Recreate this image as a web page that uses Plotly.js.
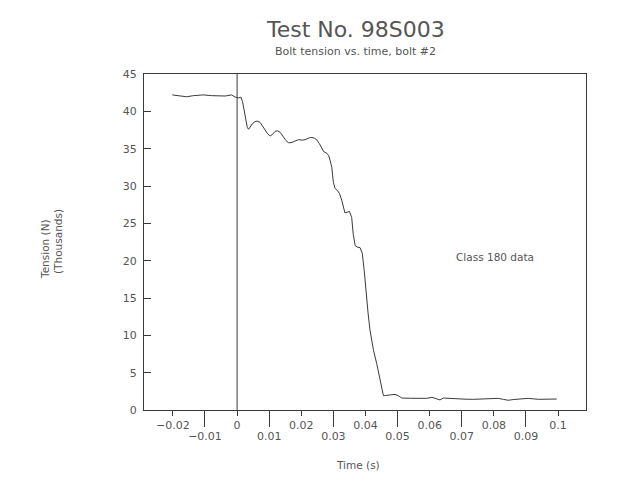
<!DOCTYPE html>
<html>
<head>
<meta charset="utf-8">
<script src="https://cdn.plot.ly/plotly-3.0.1.min.js"></script>
<style>html,body{margin:0;padding:0;background:#fff;}#chart{width:623px;height:484px;}</style>
</head>
<body>
<div id="chart"></div>
<script>
const time = [-0.0202,-0.0178,-0.0157,-0.0136,-0.0105,-0.0079,-0.0058,-0.0037,-0.0017,-0.0006,
0.0005,0.0012,0.0017,0.0020,0.0024,0.0027,0.0032,0.0036,0.0041,0.0047,0.0055,0.0062,0.0072,0.0080,
0.0087,0.0095,0.0103,0.0110,0.0118,0.0126,0.0134,0.0144,0.0152,0.0160,0.0168,0.0177,0.0191,0.0203,
0.0212,0.0225,0.0233,0.0241,0.0248,0.0256,0.0264,0.0270,0.0279,0.0285,0.0290,0.0295,0.0300,0.0305,
0.0312,0.0319,0.0326,0.0331,0.0336,0.0343,0.0350,0.0357,0.0362,0.0368,0.0376,0.0383,0.0390,0.0396,
0.0402,0.0408,0.0414,0.0420,0.0425,0.0435,0.0442,0.0448,0.0453,0.0456,0.0463,0.0471,0.0480,0.0492,
0.0503,0.0513,0.0540,0.0570,0.0591,0.0607,0.0622,0.0632,0.0643,0.0658,0.0684,0.0710,0.0736,0.0760,
0.0788,0.0814,0.0830,0.0845,0.0860,0.0871,0.0890,0.0907,0.0939,0.0970,0.0996];
const tension = [42.2,42.1,41.95,42.1,42.2,42.1,42.05,42.05,42.2,41.9,
41.8,41.9,41.3,40.6,39.5,38.6,37.8,37.6,37.9,38.3,38.6,38.7,38.5,38.0,
37.5,37.0,36.7,36.9,37.3,37.4,37.2,36.6,36.1,35.8,35.8,35.95,36.2,36.15,
36.2,36.45,36.5,36.4,36.2,35.7,35.0,34.6,34.4,34.1,33.4,32.5,30.5,29.7,
29.4,29.0,28.1,27.2,26.4,26.5,26.6,25.8,23.5,22.0,21.8,21.75,21.0,18.7,
15.6,13.0,10.7,9.0,8.0,6.2,4.8,3.6,2.4,1.9,1.95,2.0,2.05,2.1,
1.9,1.6,1.57,1.57,1.56,1.7,1.43,1.35,1.6,1.56,1.43,1.45,1.43,1.47,
1.43,1.56,1.42,1.3,1.4,1.43,1.5,1.56,1.43,1.47,1.47];

const xTickUpperVals = [-0.02,0,0.02,0.04,0.06,0.08,0.1];
const xTickUpperText = ["\u22120.02","0","0.02","0.04","0.06","0.08","0.1"];
const xTickLowerVals = [-0.01,0.01,0.03,0.05,0.07,0.09];
const xTickLowerText = ["\u22120.01","0.01","0.03","0.05","0.07","0.09"];
const yTickVals = [0,5,10,15,20,25,30,35,40,45];
const yTickText = ["0","5","10","15","20","25","30","35","40","45"];

const xRange = [-0.029, 0.1087];
const yRange = [0, 45];
const ink = '#3a3a3a';
const txt = '#555555';
const fam = 'DejaVu Sans, sans-serif';

const trace = {
  x: time, y: tension, type: 'scatter', mode: 'lines',
  line: {color: ink, width: 1}, hoverinfo: 'skip', showlegend: false
};
const dummy = {x: [xRange[0]], y: [0], xaxis: 'x2', yaxis: 'y', type: 'scatter', mode: 'none', showlegend: false, hoverinfo: 'skip'};

const layout = {
  width: 623, height: 484,
  margin: {l: 144, r: 37, t: 74, b: 74},
  paper_bgcolor: '#fff', plot_bgcolor: '#fff',
  font: {family: fam, color: txt, size: 11},
  showlegend: false,
  xaxis: {
    range: xRange, showgrid: false, zeroline: false,
    showline: true, linecolor: ink, linewidth: 1, mirror: true,
    ticks: 'outside', ticklen: 5, tickcolor: ink, tickwidth: 1,
    tickmode: 'array', tickvals: xTickUpperVals, ticktext: xTickUpperText,
    tickfont: {family: fam, size: 11, color: txt}
  },
  xaxis2: {
    range: xRange, overlaying: 'x', anchor: 'y', side: 'bottom',
    showgrid: false, zeroline: false, showline: false,
    ticks: 'outside', ticklen: 16, tickcolor: ink, tickwidth: 1,
    tickmode: 'array', tickvals: xTickLowerVals, ticktext: xTickLowerText,
    tickfont: {family: fam, size: 11, color: txt}
  },
  yaxis: {
    range: yRange, showgrid: false, zeroline: false,
    showline: true, linecolor: ink, linewidth: 1, mirror: true,
    ticks: 'inside', ticklen: 7, tickcolor: ink, tickwidth: 1,
    tickmode: 'array', tickvals: yTickVals, ticktext: yTickText,
    ticklabelstandoff: 4,
    tickfont: {family: fam, size: 11, color: txt}
  },
  shapes: [{
    type: 'line', xref: 'x', yref: 'y', x0: 0, x1: 0, y0: yRange[0], y1: yRange[1],
    line: {color: ink, width: 1}
  }],
  annotations: [
    {text: 'Test No. 98S003', xref: 'paper', yref: 'paper', x: (355-144)/442, y: (410-29)/336,
     showarrow: false, font: {family: fam, size: 22, color: txt}, xanchor: 'center', yanchor: 'middle'},
    {text: 'Bolt tension vs. time, bolt #2', xref: 'paper', yref: 'paper', x: (355-144)/442, y: (410-51)/336,
     showarrow: false, font: {family: fam, size: 11, color: txt}, xanchor: 'center', yanchor: 'middle'},
    {text: 'Class 180 data', xref: 'x', yref: 'y', x: 0.0804, y: 20.5,
     showarrow: false, font: {family: fam, size: 10.5, color: txt}, xanchor: 'center', yanchor: 'middle'},
    {text: 'Time (s)', xref: 'paper', yref: 'paper', x: (358-144)/442, y: (410-465)/336,
     showarrow: false, font: {family: fam, size: 10.5, color: txt}, xanchor: 'center', yanchor: 'middle'},
    {text: 'Tension (N)', xref: 'paper', yref: 'paper', x: (45-144)/442, y: (410-249)/336,
     showarrow: false, textangle: -90, font: {family: fam, size: 10.5, color: txt}, xanchor: 'center', yanchor: 'middle'},
    {text: '(Thousands)', xref: 'paper', yref: 'paper', x: (58-144)/442, y: (410-242)/336,
     showarrow: false, textangle: -90, font: {family: fam, size: 10.5, color: txt}, xanchor: 'center', yanchor: 'middle'}
  ]
};

Plotly.newPlot('chart', [trace, dummy], layout, {staticPlot: true, displayModeBar: false});
</script>
</body>
</html>
